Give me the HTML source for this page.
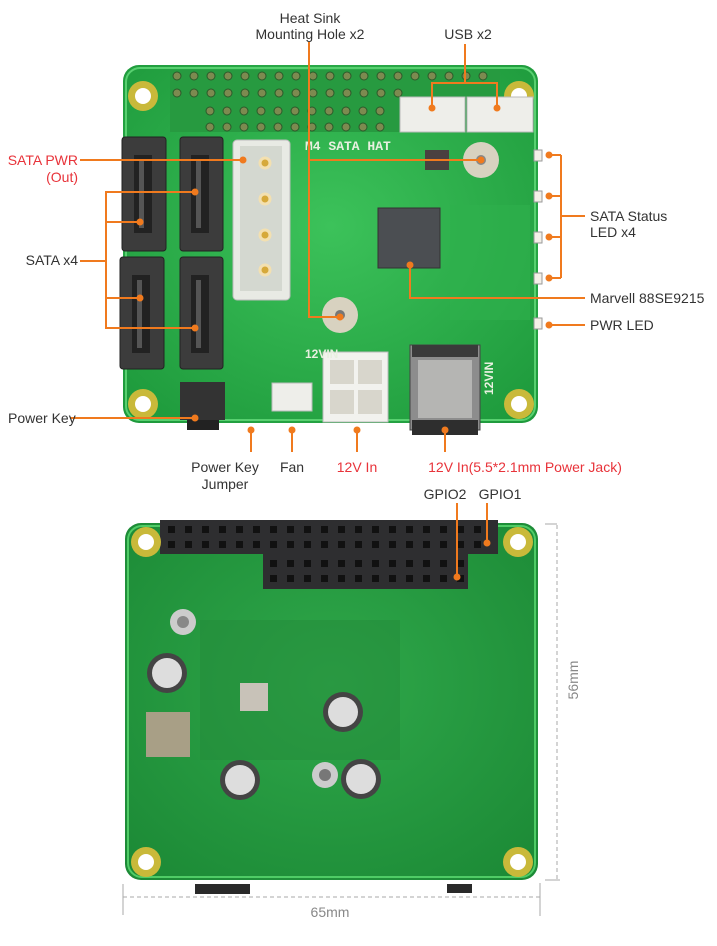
<!DOCTYPE html>
<html><head><meta charset="utf-8"><style>
html,body{margin:0;padding:0;background:#fff;}
svg{display:block;font-family:"Liberation Sans",sans-serif;}
</style></head><body>
<svg width="717" height="946" viewBox="0 0 717 946" xmlns="http://www.w3.org/2000/svg">
<defs>
<radialGradient id="g1" cx="50%" cy="45%" r="70%"><stop offset="0" stop-color="#3cc25a"/><stop offset="1" stop-color="#1e9a3c"/></radialGradient>
<radialGradient id="g2" cx="50%" cy="45%" r="70%"><stop offset="0" stop-color="#2fa84a"/><stop offset="1" stop-color="#1c8a36"/></radialGradient>
</defs>
<!-- TOP BOARD -->
<rect x="123" y="65" width="415" height="358" rx="16" fill="url(#g1)"/>
<rect x="126" y="68" width="409" height="352" rx="14" fill="none" stroke="#58d070" stroke-width="2"/>
<!-- header pins -->
<g fill="#6a7a3a">
<rect x="170" y="70" width="330" height="62" fill="#279a40"/>
</g>
<g fill="#7d8a50" stroke="#2c5a2a" stroke-width="1">
<circle cx="177" cy="76" r="4"/><circle cx="194" cy="76" r="4"/><circle cx="211" cy="76" r="4"/><circle cx="228" cy="76" r="4"/><circle cx="245" cy="76" r="4"/><circle cx="262" cy="76" r="4"/><circle cx="279" cy="76" r="4"/><circle cx="296" cy="76" r="4"/><circle cx="313" cy="76" r="4"/><circle cx="330" cy="76" r="4"/><circle cx="347" cy="76" r="4"/><circle cx="364" cy="76" r="4"/><circle cx="381" cy="76" r="4"/><circle cx="398" cy="76" r="4"/><circle cx="415" cy="76" r="4"/><circle cx="432" cy="76" r="4"/><circle cx="449" cy="76" r="4"/><circle cx="466" cy="76" r="4"/><circle cx="483" cy="76" r="4"/>
<circle cx="177" cy="93" r="4"/><circle cx="194" cy="93" r="4"/><circle cx="211" cy="93" r="4"/><circle cx="228" cy="93" r="4"/><circle cx="245" cy="93" r="4"/><circle cx="262" cy="93" r="4"/><circle cx="279" cy="93" r="4"/><circle cx="296" cy="93" r="4"/><circle cx="313" cy="93" r="4"/><circle cx="330" cy="93" r="4"/><circle cx="347" cy="93" r="4"/><circle cx="364" cy="93" r="4"/><circle cx="381" cy="93" r="4"/><circle cx="398" cy="93" r="4"/>
<circle cx="210" cy="111" r="4"/><circle cx="227" cy="111" r="4"/><circle cx="244" cy="111" r="4"/><circle cx="261" cy="111" r="4"/><circle cx="278" cy="111" r="4"/><circle cx="295" cy="111" r="4"/><circle cx="312" cy="111" r="4"/><circle cx="329" cy="111" r="4"/><circle cx="346" cy="111" r="4"/><circle cx="363" cy="111" r="4"/><circle cx="380" cy="111" r="4"/>
<circle cx="210" cy="127" r="4"/><circle cx="227" cy="127" r="4"/><circle cx="244" cy="127" r="4"/><circle cx="261" cy="127" r="4"/><circle cx="278" cy="127" r="4"/><circle cx="295" cy="127" r="4"/><circle cx="312" cy="127" r="4"/><circle cx="329" cy="127" r="4"/><circle cx="346" cy="127" r="4"/><circle cx="363" cy="127" r="4"/><circle cx="380" cy="127" r="4"/>
</g>
<!-- mounting holes -->
<g fill="#c9b93a"><circle cx="143" cy="96" r="15"/><circle cx="519" cy="96" r="15"/><circle cx="143" cy="404" r="15"/><circle cx="519" cy="404" r="15"/></g>
<g fill="#fff"><circle cx="143" cy="96" r="8"/><circle cx="519" cy="96" r="8"/><circle cx="143" cy="404" r="8"/><circle cx="519" cy="404" r="8"/></g>
<!-- SATA -->
<g fill="#3c3c3c" stroke="#222" stroke-width="1">
<rect x="122" y="137" width="44" height="114" rx="3"/><rect x="180" y="137" width="43" height="114" rx="3"/>
<rect x="120" y="257" width="44" height="112" rx="3"/><rect x="180" y="257" width="43" height="112" rx="3"/>
</g>
<g fill="#222"><rect x="134" y="155" width="18" height="78"/><rect x="191" y="155" width="18" height="78"/><rect x="132" y="275" width="18" height="78"/><rect x="191" y="275" width="18" height="78"/></g>
<g fill="#555"><rect x="139" y="160" width="5" height="68"/><rect x="196" y="160" width="5" height="68"/><rect x="137" y="280" width="5" height="68"/><rect x="196" y="280" width="5" height="68"/></g>
<!-- Molex -->
<rect x="233" y="140" width="57" height="160" rx="4" fill="#e8eae4" stroke="#bbb"/>
<rect x="240" y="146" width="42" height="145" fill="#d4d8d0"/>
<g fill="#d6a93a" stroke="#f3e0b0" stroke-width="3"><circle cx="265" cy="163" r="5"/><circle cx="265" cy="199" r="5"/><circle cx="265" cy="235" r="5"/><circle cx="265" cy="270" r="5"/></g>
<!-- USB -->
<rect x="400" y="97" width="65" height="35" fill="#eeeeea" stroke="#bbb"/>
<rect x="467" y="97" width="66" height="35" fill="#eeeeea" stroke="#bbb"/>
<!-- text on board -->
<text x="305" y="150" font-size="13" font-weight="bold" fill="#e8f0e0" font-family="Liberation Mono,monospace">M4 SATA HAT</text>
<!-- chip -->
<rect x="378" y="208" width="62" height="60" fill="#4b4e52" stroke="#333"/>
<rect x="425" y="150" width="24" height="20" fill="#4a4040"/>
<!-- heat sink holes -->
<circle cx="481" cy="160" r="18" fill="#d8d2c0"/><circle cx="481" cy="160" r="5" fill="#888"/>
<circle cx="340" cy="315" r="18" fill="#d8d2c0"/><circle cx="340" cy="315" r="5" fill="#777"/>
<!-- lighter region -->
<rect x="450" y="205" width="80" height="115" fill="#2fb04c" opacity=".6"/>
<!-- LEDs -->
<g fill="#f4f0e8" stroke="#999"><rect x="534" y="150" width="8" height="11"/><rect x="534" y="191" width="8" height="11"/><rect x="534" y="232" width="8" height="11"/><rect x="534" y="273" width="8" height="11"/><rect x="534" y="318" width="8" height="11"/></g>
<!-- 12V in connector -->
<rect x="323" y="352" width="65" height="70" fill="#f2f2ee" stroke="#bbb"/>
<g fill="#d8d6cc"><rect x="330" y="360" width="24" height="24"/><rect x="358" y="360" width="24" height="24"/><rect x="330" y="390" width="24" height="24"/><rect x="358" y="390" width="24" height="24"/></g>
<!-- power jack -->
<rect x="410" y="345" width="70" height="85" fill="#8d8d8d" stroke="#444"/>
<rect x="412" y="345" width="66" height="12" fill="#3a3a3a"/>
<rect x="418" y="360" width="54" height="58" fill="#b5b5b3"/>
<rect x="412" y="420" width="66" height="15" fill="#2e2e2e"/>
<text x="493" y="395" font-size="12" font-weight="bold" fill="#e8f0e0" transform="rotate(-90 493 395)">12VIN</text>
<text x="305" y="358" font-size="12" font-weight="bold" fill="#e8f0e0">12VIN</text>
<!-- power button -->
<rect x="180" y="382" width="45" height="38" fill="#333"/><rect x="187" y="420" width="32" height="10" fill="#222"/>
<!-- fan connector -->
<rect x="272" y="383" width="40" height="28" fill="#eeeeea" stroke="#bbb"/>
<!-- BOTTOM BOARD -->
<rect x="125" y="523" width="413" height="357" rx="16" fill="url(#g2)"/>
<rect x="128" y="526" width="407" height="351" rx="14" fill="none" stroke="#4fcc66" stroke-width="2"/>
<rect x="160" y="520" width="338" height="34" fill="#2e2e30"/>
<rect x="263" y="553" width="205" height="36" fill="#2e2e30"/>
<g fill="#111">
<rect x="168" y="526" width="7" height="7"/><rect x="185" y="526" width="7" height="7"/><rect x="202" y="526" width="7" height="7"/><rect x="219" y="526" width="7" height="7"/><rect x="236" y="526" width="7" height="7"/><rect x="253" y="526" width="7" height="7"/><rect x="270" y="526" width="7" height="7"/><rect x="287" y="526" width="7" height="7"/><rect x="304" y="526" width="7" height="7"/><rect x="321" y="526" width="7" height="7"/><rect x="338" y="526" width="7" height="7"/><rect x="355" y="526" width="7" height="7"/><rect x="372" y="526" width="7" height="7"/><rect x="389" y="526" width="7" height="7"/><rect x="406" y="526" width="7" height="7"/><rect x="423" y="526" width="7" height="7"/><rect x="440" y="526" width="7" height="7"/><rect x="457" y="526" width="7" height="7"/><rect x="474" y="526" width="7" height="7"/>
<rect x="168" y="541" width="7" height="7"/><rect x="185" y="541" width="7" height="7"/><rect x="202" y="541" width="7" height="7"/><rect x="219" y="541" width="7" height="7"/><rect x="236" y="541" width="7" height="7"/><rect x="253" y="541" width="7" height="7"/><rect x="270" y="541" width="7" height="7"/><rect x="287" y="541" width="7" height="7"/><rect x="304" y="541" width="7" height="7"/><rect x="321" y="541" width="7" height="7"/><rect x="338" y="541" width="7" height="7"/><rect x="355" y="541" width="7" height="7"/><rect x="372" y="541" width="7" height="7"/><rect x="389" y="541" width="7" height="7"/><rect x="406" y="541" width="7" height="7"/><rect x="423" y="541" width="7" height="7"/><rect x="440" y="541" width="7" height="7"/><rect x="457" y="541" width="7" height="7"/><rect x="474" y="541" width="7" height="7"/>
<rect x="270" y="560" width="7" height="7"/><rect x="287" y="560" width="7" height="7"/><rect x="304" y="560" width="7" height="7"/><rect x="321" y="560" width="7" height="7"/><rect x="338" y="560" width="7" height="7"/><rect x="355" y="560" width="7" height="7"/><rect x="372" y="560" width="7" height="7"/><rect x="389" y="560" width="7" height="7"/><rect x="406" y="560" width="7" height="7"/><rect x="423" y="560" width="7" height="7"/><rect x="440" y="560" width="7" height="7"/><rect x="457" y="560" width="7" height="7"/>
<rect x="270" y="575" width="7" height="7"/><rect x="287" y="575" width="7" height="7"/><rect x="304" y="575" width="7" height="7"/><rect x="321" y="575" width="7" height="7"/><rect x="338" y="575" width="7" height="7"/><rect x="355" y="575" width="7" height="7"/><rect x="372" y="575" width="7" height="7"/><rect x="389" y="575" width="7" height="7"/><rect x="406" y="575" width="7" height="7"/><rect x="423" y="575" width="7" height="7"/><rect x="440" y="575" width="7" height="7"/><rect x="457" y="575" width="7" height="7"/>
</g>
<g fill="#c9b93a"><circle cx="146" cy="542" r="15"/><circle cx="518" cy="542" r="15"/><circle cx="146" cy="862" r="15"/><circle cx="518" cy="862" r="15"/></g>
<g fill="#fff"><circle cx="146" cy="542" r="8"/><circle cx="518" cy="542" r="8"/><circle cx="146" cy="862" r="8"/><circle cx="518" cy="862" r="8"/></g>
<rect x="200" y="620" width="200" height="140" fill="#238a3a" opacity=".5"/>
<circle cx="183" cy="622" r="13" fill="#ccc"/><circle cx="183" cy="622" r="6" fill="#888"/>
<circle cx="325" cy="775" r="13" fill="#ccc"/><circle cx="325" cy="775" r="6" fill="#777"/>
<rect x="146" y="712" width="44" height="45" fill="#a89f86"/>
<rect x="240" y="683" width="28" height="28" fill="#c8c2b8"/>
<g fill="#444"><circle cx="167" cy="673" r="20"/><circle cx="343" cy="712" r="20"/><circle cx="240" cy="780" r="20"/><circle cx="361" cy="779" r="20"/></g>
<g fill="#ddd"><circle cx="167" cy="673" r="15"/><circle cx="343" cy="712" r="15"/><circle cx="240" cy="780" r="15"/><circle cx="361" cy="779" r="15"/></g>
<rect x="195" y="884" width="55" height="10" fill="#2a2a2a"/>
<rect x="447" y="884" width="25" height="9" fill="#2a2a2a"/>
<!-- ORANGE LINES -->
<g stroke="#f07a1e" stroke-width="2" fill="none">
<path d="M80 160 H243"/>
<path d="M309 42 V317 H340"/>
<path d="M309 160 H481"/>
<path d="M465 44 V83 M432 108 V83 H497 V108"/>
<path d="M80 261 H106 M195 192 H106 V328 H195 M106 222 H140 M106 298 H140"/>
<path d="M549 155 H561 M549 196 H561 M549 237 H561 M549 278 H561 M561 155 V278 M561 216 H585"/>
<path d="M410 265 V298 H585"/>
<path d="M549 325 H585"/>
<path d="M70 418 H195"/>
<path d="M251 430 V452 M292 430 V452 M357 430 V452 M445 430 V452"/>
<path d="M457 503 V577 M487 503 V543"/>
</g>
<g fill="#f07a1e">
<circle cx="243" cy="160" r="3.5"/><circle cx="340" cy="317" r="3.5"/><circle cx="481" cy="160" r="3.5"/>
<circle cx="432" cy="108" r="3.5"/><circle cx="497" cy="108" r="3.5"/>
<circle cx="195" cy="192" r="3.5"/><circle cx="195" cy="328" r="3.5"/><circle cx="140" cy="222" r="3.5"/><circle cx="140" cy="298" r="3.5"/>
<circle cx="549" cy="155" r="3.5"/><circle cx="549" cy="196" r="3.5"/><circle cx="549" cy="237" r="3.5"/><circle cx="549" cy="278" r="3.5"/><circle cx="549" cy="325" r="3.5"/>
<circle cx="410" cy="265" r="3.5"/><circle cx="195" cy="418" r="3.5"/>
<circle cx="251" cy="430" r="3.5"/><circle cx="292" cy="430" r="3.5"/><circle cx="357" cy="430" r="3.5"/><circle cx="445" cy="430" r="3.5"/>
<circle cx="457" cy="577" r="3.5"/><circle cx="487" cy="543" r="3.5"/>
</g>
<!-- LABELS -->
<g font-size="14" fill="#333">
<text x="310" y="23" text-anchor="middle">Heat Sink</text>
<text x="310" y="39" text-anchor="middle">Mounting Hole x2</text>
<text x="468" y="39" text-anchor="middle">USB x2</text>
<text x="78" y="265" text-anchor="end">SATA x4</text>
<text x="590" y="221">SATA Status</text>
<text x="590" y="237">LED x4</text>
<text x="590" y="303">Marvell 88SE9215</text>
<text x="590" y="330">PWR LED</text>
<text x="8" y="423">Power Key</text>
<text x="225" y="472" text-anchor="middle">Power Key</text>
<text x="225" y="489" text-anchor="middle">Jumper</text>
<text x="292" y="472" text-anchor="middle">Fan</text>
<text x="445" y="499" text-anchor="middle">GPIO2</text>
<text x="500" y="499" text-anchor="middle">GPIO1</text>
</g>
<g font-size="14" fill="#e8333a">
<text x="78" y="165" text-anchor="end">SATA PWR</text>
<text x="78" y="182" text-anchor="end">(Out)</text>
<text x="357" y="472" text-anchor="middle">12V In</text>
<text x="525" y="472" text-anchor="middle">12V In(5.5*2.1mm Power Jack)</text>
</g>
<!-- dimensions -->
<g stroke="#aaa" stroke-width="1" fill="none">
<path d="M557 525 V880" stroke-dasharray="4 3"/>
<path d="M545 524 H557 M545 880 H560"/>
<path d="M123 897 H540" stroke-dasharray="4 3"/>
<path d="M123 884 V915 M540 883 V916"/>
</g>
<text x="330" y="917" font-size="14" fill="#888" text-anchor="middle">65mm</text>
<text x="578" y="680" font-size="14" fill="#888" text-anchor="middle" transform="rotate(-90 578 680)">56mm</text>
</svg>
</body></html>
